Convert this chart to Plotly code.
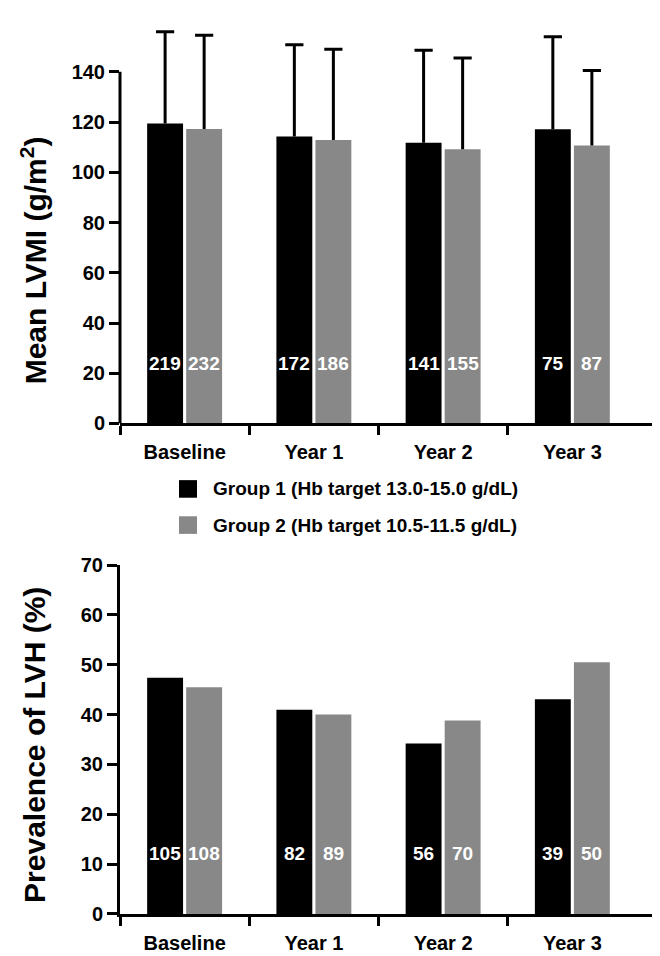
import plotly.graph_objects as go

# ---------------- data ----------------
categories = ["Baseline", "Year 1", "Year 2", "Year 3"]
group_names = ["Group 1 (Hb target 13.0-15.0 g/dL)", "Group 2 (Hb target 10.5-11.5 g/dL)"]

lvmi_g1 = [119.4, 114.3, 111.8, 117.1]
lvmi_g2 = [117.2, 112.9, 109.2, 110.7]
lvmi_sd_g1 = [36.6, 36.5, 36.8, 36.9]
lvmi_sd_g2 = [37.4, 36.1, 36.3, 29.8]
lvmi_n_g1 = [219, 172, 141, 75]
lvmi_n_g2 = [232, 186, 155, 87]

lvh_g1 = [47.4, 41.0, 34.2, 43.1]
lvh_g2 = [45.5, 40.0, 38.8, 50.5]
lvh_n_g1 = [105, 82, 56, 39]
lvh_n_g2 = [108, 89, 70, 50]

lvmi_ticks = [0, 20, 40, 60, 80, 100, 120, 140]
lvh_ticks = [0, 10, 20, 30, 40, 50, 60, 70]

# ---------------- style ----------------
W, H = 660, 956
ML = 112
colors = ["#000000", "#888888"]
FONT = "Liberation Sans, Arial, Helvetica, sans-serif"
BARGAP = 0.396
GROUPGAP = 0.08

def px_x(p):  # pixel -> paper x
    return (p - ML) / (W - ML)

def px_y(p):  # pixel -> paper y
    return 1 - p / H

xpos = list(range(len(categories)))
boundaries = [i - 0.5 for i in xpos]
off = (1 - BARGAP) / 4

fig = go.Figure()

# top panel: bars with upward-only error lines (no caps on the bar top)
for k, (vals, sds) in enumerate([(lvmi_g1, lvmi_sd_g1), (lvmi_g2, lvmi_sd_g2)]):
    fig.add_trace(go.Bar(
        x=xpos, y=vals, name=group_names[k], xaxis="x", yaxis="y",
        marker=dict(color=colors[k], line=dict(width=0)),
        error_y=dict(type="data", array=sds, arrayminus=[0] * len(sds), symmetric=False,
                     color="#000000", thickness=3, width=0),
        offsetgroup=str(k), showlegend=False,
    ))
# caps at the end of the error lines
for k, (vals, sds) in enumerate([(lvmi_g1, lvmi_sd_g1), (lvmi_g2, lvmi_sd_g2)]):
    sign = -1 if k == 0 else 1
    fig.add_trace(go.Scatter(
        x=[i + sign * off for i in xpos], y=[v + s for v, s in zip(vals, sds)],
        xaxis="x", yaxis="y", mode="markers",
        marker=dict(symbol="line-ew", size=13, line=dict(color="#000000", width=3)),
        showlegend=False, hoverinfo="skip",
    ))

# bottom panel
for k, vals in enumerate([lvh_g1, lvh_g2]):
    fig.add_trace(go.Bar(
        x=xpos, y=vals, name=group_names[k], xaxis="x2", yaxis="y2",
        marker=dict(color=colors[k], line=dict(width=0)),
        offsetgroup=str(k), showlegend=False,
    ))

tickfont = dict(family=FONT, size=20, color="#000000", weight="bold")

xcommon = dict(
    range=[-0.5, 3.74], domain=[0, 1],
    tickmode="array", tickvals=xpos, ticktext=categories,
    ticks="outside", ticklen=9, tickwidth=3, tickcolor="rgba(0,0,0,0)",
    minor=dict(tickmode="array", tickvals=boundaries, ticks="outside", ticklen=9,
               tickwidth=3, tickcolor="#000000", showgrid=False),
    showline=True, linewidth=3, linecolor="#000000",
    showgrid=False, zeroline=False, tickfont=tickfont, fixedrange=True,
)

fig.update_layout(
    width=W, height=H,
    margin=dict(l=ML, r=0, t=0, b=0),
    paper_bgcolor="white", plot_bgcolor="white",
    barmode="group", bargap=BARGAP, bargroupgap=GROUPGAP,
    font=dict(family=FONT, color="#000000"),
    xaxis=dict(anchor="y", **xcommon),
    xaxis2=dict(anchor="y2", **xcommon),
    yaxis=dict(domain=[px_y(414), px_y(7.8)], anchor="x", range=[0, 158],
               tickmode="array", tickvals=lvmi_ticks,
               ticks="outside", ticklen=10, tickwidth=3, tickcolor="#000000",
               showline=False, showgrid=False, zeroline=False, tickfont=tickfont),
    yaxis2=dict(domain=[px_y(916), px_y(559)], anchor="x2", range=[0, 70],
                tickmode="array", tickvals=lvh_ticks,
                ticks="outside", ticklen=10, tickwidth=3, tickcolor="#000000",
                showline=True, linewidth=3, linecolor="#000000",
                showgrid=False, zeroline=False, tickfont=tickfont),
)

# y axis line of the top panel, stopping at the top tick
fig.add_shape(type="line", xref="x domain", yref="y", x0=0, x1=0,
              y0=lvmi_ticks[0], y1=lvmi_ticks[-1],
              line=dict(color="#000000", width=3))

# counts inside bars
annots = []
for (ns1, ns2, xr, yr) in [(lvmi_n_g1, lvmi_n_g2, "x", "y"), (lvh_n_g1, lvh_n_g2, "x2", "y2")]:
    for i in xpos:
        for n, d in [(ns1[i], -off), (ns2[i], off)]:
            annots.append(dict(x=i + d, y=0, xref=xr, yref=yr, text=str(n), showarrow=False,
                               yanchor="middle", yshift=60,
                               font=dict(family=FONT, size=19, color="#ffffff", weight="bold")))

# axis titles
annots.append(dict(x=px_x(26), y=px_y(247), xref="paper", yref="paper",
                   text="Mean LVMI (g/m<sup>2</sup>)", textangle=-90, showarrow=False,
                   xanchor="center", yanchor="middle",
                   font=dict(family=FONT, size=30, color="#000000", weight="bold")))
annots.append(dict(x=px_x(27), y=px_y(743), xref="paper", yref="paper",
                   text="Prevalence of LVH (%)", textangle=-90, showarrow=False,
                   xanchor="center", yanchor="middle",
                   font=dict(family=FONT, size=30, color="#000000", weight="bold")))

# manual legend
leg_rows = [(472, 490), (509, 527)]
for k, (y0, y1) in enumerate(leg_rows):
    fig.add_shape(type="rect", xref="paper", yref="paper",
                  x0=px_x(171), x1=px_x(189), y0=px_y(y1), y1=px_y(y0),
                  fillcolor=colors[k], line=dict(width=0))
    annots.append(dict(x=px_x(203), y=px_y((y0 + y1) / 2), xref="paper", yref="paper",
                       text=group_names[k], showarrow=False, xanchor="left", yanchor="middle",
                       font=dict(family=FONT, size=19, color="#000000", weight="bold")))

fig.update_layout(annotations=annots)

fig.write_html("out.html")
